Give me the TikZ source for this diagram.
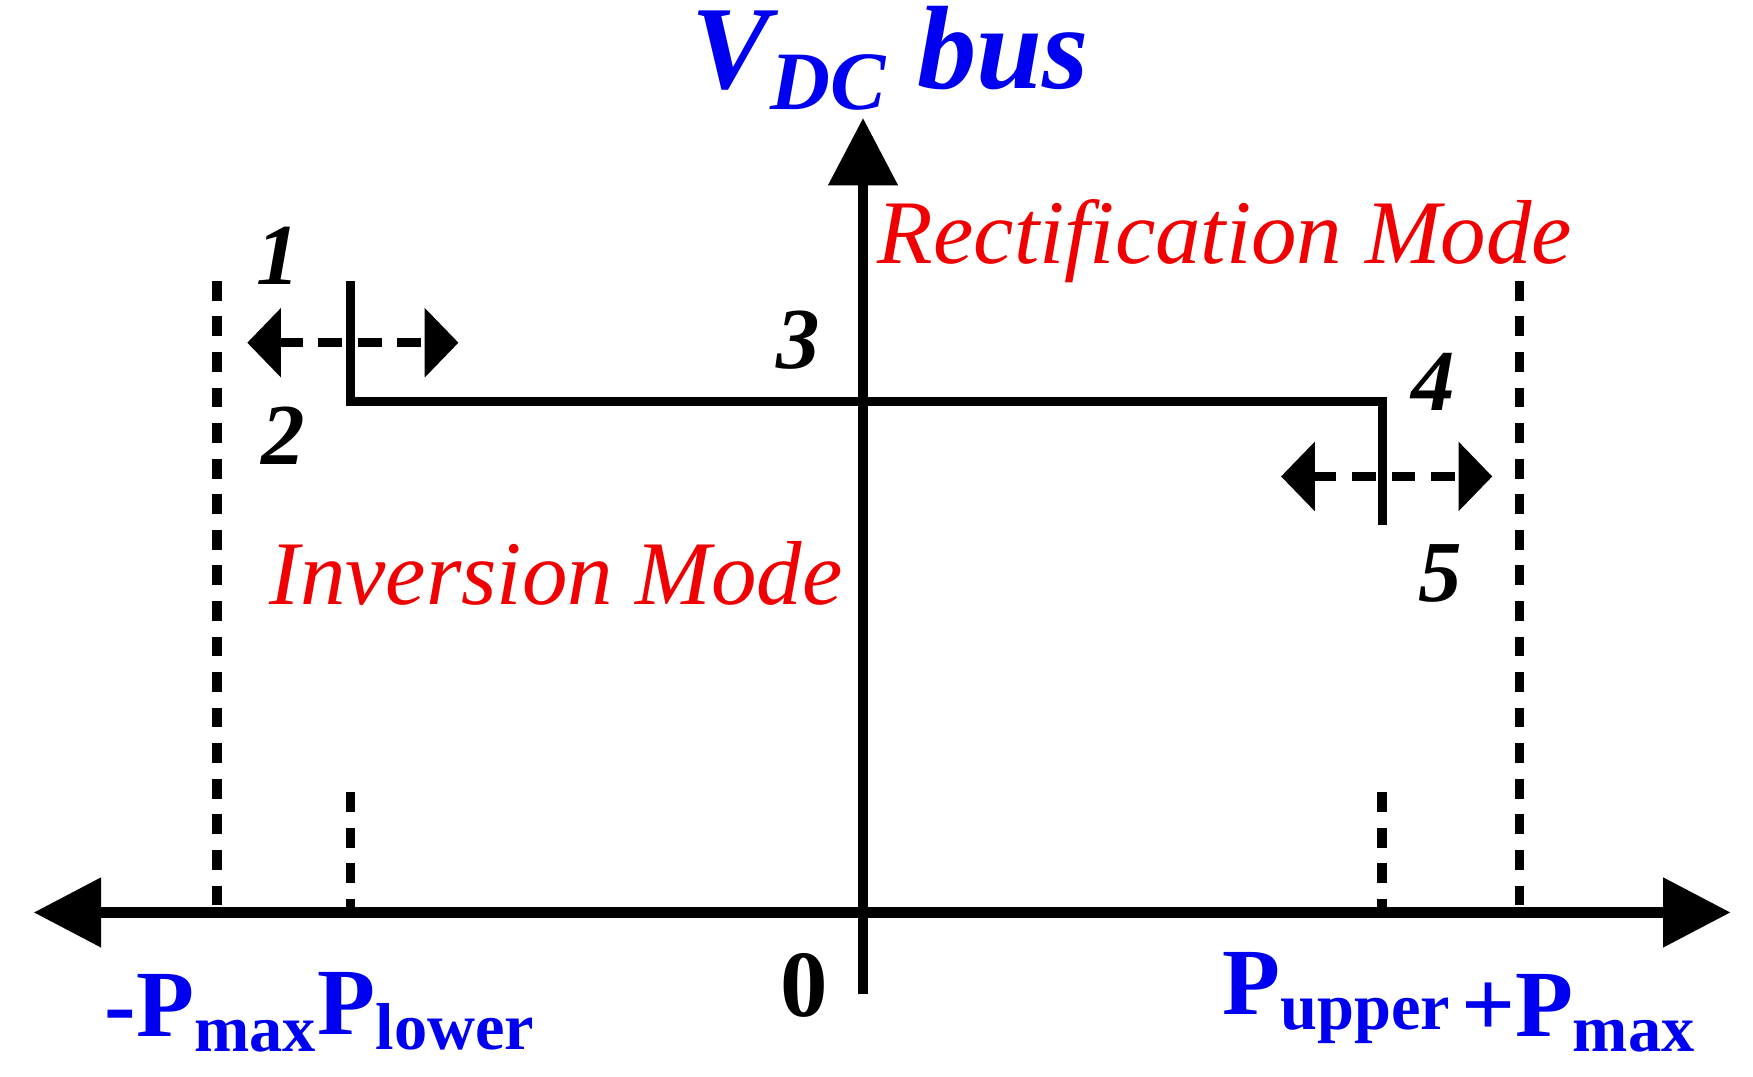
\documentclass[tikz,border=0pt]{standalone}
\usepackage{fontspec}
\setmainfont{Liberation Serif}
\usepackage{xcolor}
\usetikzlibrary{arrows.meta,positioning,calc}
\definecolor{labblue}{RGB}{0,0,240}
\definecolor{labred}{RGB}{240,0,0}

\begin{document}
\begin{tikzpicture}[
    x=0.01cm, y=-0.01cm,
    axisarrow/.style={line width=2.6pt, {Triangle[length=0.6cm,width=0.6cm]}-{Triangle[length=0.6cm,width=0.6cm]}},
    vdcline/.style={line width=2.2pt},
    limitline/.style={line width=2.4pt, dash pattern=on 5pt off 4pt},
    shiftarrow/.style={line width=2.4pt, dash pattern=on 6pt off 4pt, {Triangle[length=0.3cm,width=0.6cm]}-{Triangle[length=0.3cm,width=0.6cm]}},
    numlabel/.style={font=\fontsize{22}{24}\selectfont\bfseries\itshape},
    modelabel/.style={text=labred, font=\fontsize{23}{26}\selectfont\itshape},
    powerlabel/.style={text=labblue, font=\fontsize{24}{26}\selectfont\bfseries}
]
    \useasboundingbox (0,0) rectangle (1560,958);
    % axes
    \coordinate (xl) at (30,812);
    \coordinate (xr) at (1540,812);
    \coordinate (yb) at (768,885);
    \coordinate (yt) at (768,105);
    \draw[axisarrow] (xl) -- (xr);
    \draw[line width=2.6pt, -{Triangle[length=0.6cm,width=0.6cm]}] (yb) -- (yt);
    \node[text=labblue, font=\fontsize{30}{32}\selectfont\bfseries\itshape] (vdc) at (792,52) {V\textsubscript{DC} bus};

    % characteristic
    \coordinate (a) at (312,250);
    \coordinate (b) at (312,357);
    \coordinate (c) at (1230,357);
    \coordinate (d) at (1230,467);
    \draw[vdcline] (a) -- (b) -- (c) -- (d);

    % limits
    \coordinate (nmaxt) at (193,250);
    \coordinate (nmaxb) at (193,812);
    \coordinate (pmaxt) at (1352,250);
    \coordinate (pmaxb) at (1352,812);
    \coordinate (lowt) at (312,705);
    \coordinate (lowb) at (312,812);
    \coordinate (upt) at (1230,705);
    \coordinate (upb) at (1230,812);
    \draw[limitline] (nmaxt) -- (nmaxb);
    \draw[limitline] (pmaxt) -- (pmaxb);
    \draw[limitline] (lowt) -- (lowb);
    \draw[limitline] (upt) -- (upb);

    % shifting ranges
    \coordinate (s1l) at (220,305);
    \coordinate (s1r) at (408,305);
    \coordinate (s2l) at (1140,424);
    \coordinate (s2r) at (1328,424);
    \draw[shiftarrow] (s1l) -- (s1r);
    \draw[shiftarrow] (s2l) -- (s2r);

    % points
    \node[numlabel] (n1) at (248,228) {1};
    \node[numlabel] (n2) at (252,388) {2};
    \node[numlabel] (n3) at (710,303) {3};
    \node[numlabel] (n4) at (1275,340) {4};
    \node[numlabel] (n5) at (1282,510) {5};

    % modes
    \node[modelabel] (rect) at (1090,215) {Rectification Mode};
    \node[modelabel] (inv) at (495,510) {Inversion Mode};

    % axis labels
    \node[powerlabel] (nmax) at (188,902) {-P\textsubscript{max}};
    \node[powerlabel] (plow) at (380,900) {P\textsubscript{lower}};
    \node[font=\fontsize{24}{26}\selectfont\bfseries] (zero) at (716,877) {0};
    \node[powerlabel] (pup) at (1190,888) {P\textsubscript{upper}};
    \node[powerlabel] (pmax) at (1405,902) {+P\textsubscript{max}};
\end{tikzpicture}
\end{document}
